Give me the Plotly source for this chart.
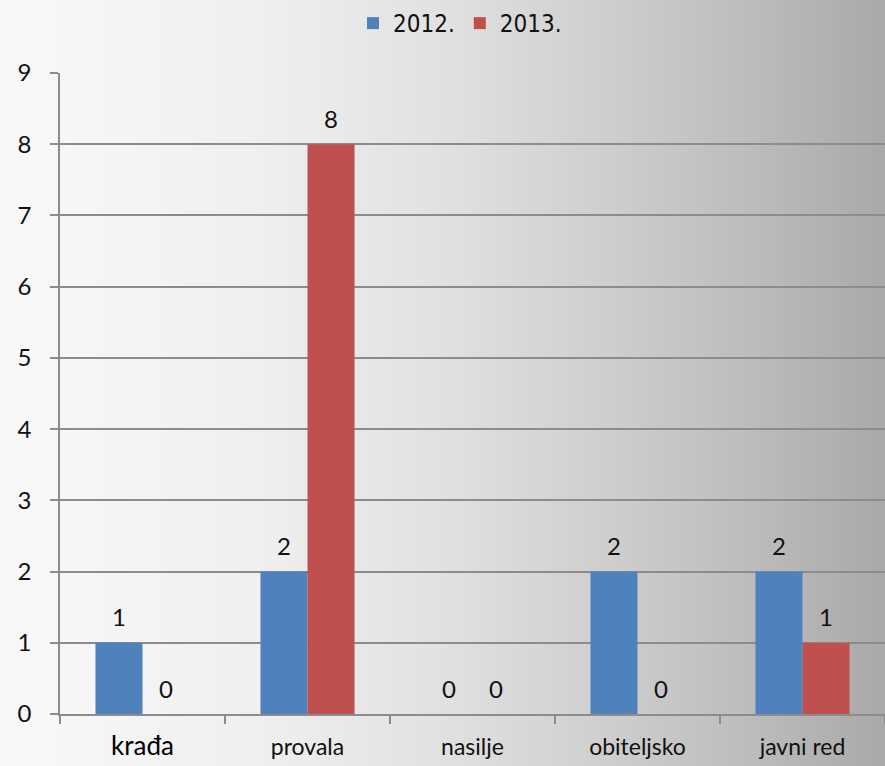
import plotly.graph_objects as go
import urllib.parse

categories = ["krađa", "provala", "nasilje", "obiteljsko", "javni red"]
series_names = ["2012.", "2013."]
values_2012 = [1, 2, 0, 2, 2]
values_2013 = [0, 8, 0, 0, 1]
y_ticks = [0, 1, 2, 3, 4, 5, 6, 7, 8, 9]

colors = ["#4F81BD", "#C0504D"]
W, H = 885, 766
ML, MR, MT, MB = 60, 0, 73, 52
PW, PH = W - ML - MR, H - MT - MB

FONT = "Lato, 'Open Sans', sans-serif"
LEG_FONT = "'Liberation Sans Narrow', 'DejaVu Sans Condensed', Lato, sans-serif"

tick_text = ["<span style='font-size:26px;color:#000000'>" + categories[0] + "</span>"] + categories[1:]

fig = go.Figure()
for name, vals, col in zip(series_names, [values_2012, values_2013], colors):
    fig.add_trace(go.Bar(x=categories, y=vals, name=name, marker=dict(color=col, line=dict(width=0))))

# data labels above bars
bargap = 0.43
cat_px = PW / len(categories)
bar_px = cat_px * (1 - bargap) / 2
annotations = []
for i, vals in enumerate([values_2012, values_2013]):
    shift = (i - 0.5) * bar_px
    for c, v in zip(categories, vals):
        annotations.append(dict(x=c, y=v, xref="x", yref="y", text=str(v), showarrow=False,
                                xshift=shift, yshift=26, font=dict(family=FONT, size=24, color="#111111")))

svg = (f"<svg xmlns='http://www.w3.org/2000/svg' width='{W}' height='{H}'>"
       "<defs><linearGradient id='g' x1='0' y1='0' x2='1' y2='0'>"
       "<stop offset='0' stop-color='#f9f9f9'/>"
       "<stop offset='0.3' stop-color='#efefef'/>"
       "<stop offset='0.5' stop-color='#e1e1e1'/>"
       "<stop offset='0.7' stop-color='#cdcdcd'/>"
       "<stop offset='0.85' stop-color='#bcbcbc'/>"
       "<stop offset='1' stop-color='#a9a9a9'/>"
       "</linearGradient></defs>"
       f"<rect width='{W}' height='{H}' fill='url(#g)'/></svg>")
src = "data:image/svg+xml;charset=utf-8," + urllib.parse.quote(svg)

fig.update_layout(
    width=W, height=H,
    margin=dict(l=ML, r=MR, t=MT, b=MB),
    paper_bgcolor="#dedede",
    plot_bgcolor="rgba(0,0,0,0)",
    barmode="group", bargap=bargap, bargroupgap=0,
    showlegend=True,
    legend=dict(orientation="h", xref="paper", yref="paper", x=(460 - ML) / PW, xanchor="center",
                y=(H - MB - 1) / PH, yanchor="top", font=dict(family=LEG_FONT, size=24, color="#111111"),
                bgcolor="rgba(0,0,0,0)", itemwidth=30, tracegroupgap=0),
    images=[dict(source=src, xref="paper", yref="paper", x=-ML / PW, y=1 + MT / PH,
                 sizex=W / PW, sizey=H / PH, xanchor="left", yanchor="top",
                 sizing="stretch", layer="below")],
    annotations=annotations,
    font=dict(family=FONT, color="#111111"),
)
fig.update_xaxes(tickmode="array", tickvals=categories, ticktext=tick_text,
                 showline=True, linecolor="#8c8c8c", linewidth=1.5,
                 ticks="outside", tickson="boundaries", ticklen=8, tickcolor="#8c8c8c", tickwidth=1.5,
                 tickfont=dict(family=FONT, size=23, color="#111111"), ticklabelstandoff=12,
                 showgrid=False, fixedrange=True)
fig.update_yaxes(range=[0, 9], tickvals=y_ticks, showline=True, linecolor="#8c8c8c", linewidth=1.5,
                 ticks="outside", ticklen=8, tickcolor="#8c8c8c", tickwidth=1.5,
                 showgrid=True, gridcolor="#8c8c8c", gridwidth=1.5, zeroline=False,
                 tickfont=dict(family=FONT, size=24, color="#111111"), ticklabelstandoff=14)

fig.write_html("out.html", config={"displayModeBar": False},
               post_script="document.body.style.margin='0';document.body.style.overflow='hidden';")
